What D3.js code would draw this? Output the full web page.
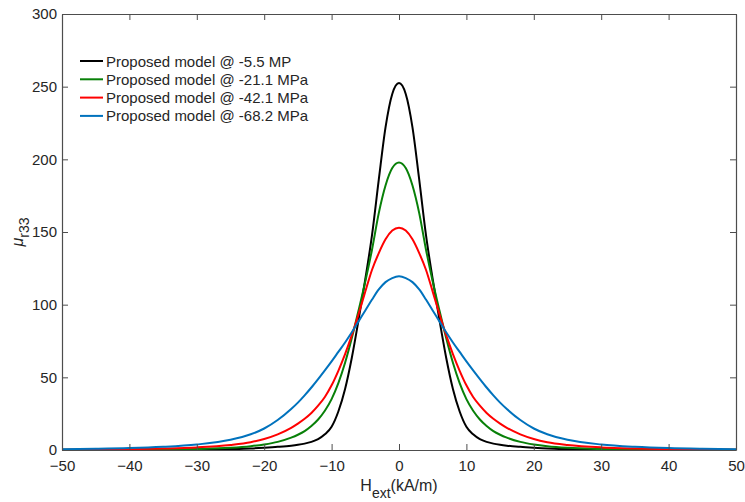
<!DOCTYPE html>
<html>
<head>
<meta charset="utf-8">
<script src="https://cdn.jsdelivr.net/npm/d3@7"></script>
<style>
  body { margin: 0; background: #fff; }
  text { font-family: "Liberation Sans", Arial, sans-serif; fill: #262626; }
</style>
</head>
<body>
<div id="chart"></div>
<script>
// curves are symmetric about H = 0, values read at these |H| (kA/m)
const hAbs = [0, 1, 2, 3, 4, 5, 6, 7, 8, 9, 10, 11, 12, 13, 14, 15, 16, 18, 20, 22, 25, 30, 35, 40, 45, 50];

const mu_5_5  = [252.5, 245, 222, 186, 148, 117.5, 89.5, 63.5, 42, 26.5, 16, 10.8, 7.5, 5.6, 4.4, 3.6, 3.0, 2.2, 1.6, 1.1, 0.7, 0.35, 0.18, 0.1, 0.07, 0.05];
const mu_21_1 = [197.8, 194, 182, 163, 138, 116, 96, 77, 60, 46, 35, 27, 21, 16.5, 13, 10.5, 8.5, 5.6, 3.8, 2.6, 1.5, 0.7, 0.4, 0.25, 0.15, 0.1];
const mu_42_1 = [153, 151, 145, 135.5, 124, 109, 93.5, 79, 66, 54.5, 44.5, 36.5, 30.5, 25.5, 21.5, 18.2, 15.3, 10.8, 7.6, 5.4, 3.5, 1.8, 1.0, 0.55, 0.35, 0.2];
const mu_68_2 = [119.5, 118.3, 115.5, 110.5, 103.5, 96, 88.5, 81, 74, 67.5, 61, 54.8, 48.8, 43, 37.6, 32.6, 28.2, 20.6, 14.8, 10.8, 7.0, 3.8, 2.2, 1.3, 0.85, 0.6];

const seriesNames = ["Proposed model @ -5.5 MP", "Proposed model @ -21.1 MPa", "Proposed model @ -42.1 MPa", "Proposed model @ -68.2 MPa"];
const seriesColors = ["#000000", "#088008", "#ff0000", "#0072bd"];
const seriesValues = [mu_5_5, mu_21_1, mu_42_1, mu_68_2];

const xTicks = [-50, -40, -30, -20, -10, 0, 10, 20, 30, 40, 50];
const yTicks = [0, 50, 100, 150, 200, 250, 300];

const W = 745, H = 502;
const margin = { left: 62, right: 9, top: 14, bottom: 52 };
const iw = W - margin.left - margin.right;
const ih = H - margin.top - margin.bottom;

const svg = d3.select("#chart").append("svg")
  .attr("width", W).attr("height", H);

const g = svg.append("g")
  .attr("transform", "translate(" + margin.left + "," + margin.top + ")");

const x = d3.scaleLinear().domain([-50, 50]).range([0, iw]);
const y = d3.scaleLinear().domain([0, 300]).range([ih, 0]);

svg.append("defs").append("clipPath").attr("id", "clip")
  .append("rect").attr("width", iw).attr("height", ih);

// curves
const line = d3.line()
  .x(d => x(d[0]))
  .y(d => y(d[1]))
  .curve(d3.curveMonotoneX);

seriesValues.forEach((vals, i) => {
  const pts = [];
  for (let k = hAbs.length - 1; k > 0; k--) pts.push([-hAbs[k], vals[k]]);
  for (let k = 0; k < hAbs.length; k++) pts.push([hAbs[k], vals[k]]);
  g.append("path")
    .datum(pts)
    .attr("clip-path", "url(#clip)")
    .attr("fill", "none")
    .attr("stroke", seriesColors[i])
    .attr("stroke-width", 2)
    .attr("d", line);
});

// axes, MATLAB style: ticks inside, box on
const axColor = "#4d4d4d";
const tl = 6;

const xb = g.append("g").attr("transform", "translate(0," + ih + ")")
  .call(d3.axisBottom(x).tickValues(xTicks).tickSizeInner(-tl).tickSizeOuter(0).tickPadding(10));
const xt = g.append("g")
  .call(d3.axisTop(x).tickValues(xTicks).tickSizeInner(-tl).tickSizeOuter(0).tickFormat(""));
const yl = g.append("g")
  .call(d3.axisLeft(y).tickValues(yTicks).tickSizeInner(-tl).tickSizeOuter(0).tickPadding(5));
const yr = g.append("g").attr("transform", "translate(" + iw + ",0)")
  .call(d3.axisRight(y).tickValues(yTicks).tickSizeInner(-tl).tickSizeOuter(0).tickFormat(""));

[xb, xt, yl, yr].forEach(a => {
  a.select(".domain").attr("stroke", axColor).attr("stroke-width", 1.2);
  a.selectAll(".tick line").attr("stroke", axColor);
  a.selectAll(".tick text").attr("font-size", 15).attr("fill", "#262626")
    .attr("font-family", "'Liberation Sans', Arial, sans-serif");
});

// x label
const xl = svg.append("text")
  .attr("x", margin.left + x(0))
  .attr("y", 491)
  .attr("text-anchor", "middle")
  .attr("font-size", 16);
xl.append("tspan").text("H");
xl.append("tspan").attr("dy", 7).attr("font-size", 14).text("ext");
xl.append("tspan").attr("dy", -7).text("(kA/m)");

// y label
const ylab = svg.append("text")
  .attr("transform", "translate(23," + (margin.top + y(150)) + ") rotate(-90)")
  .attr("text-anchor", "middle")
  .attr("font-size", 16);
ylab.append("tspan").attr("font-style", "italic").text("\u03bc");
ylab.append("tspan").attr("dy", 6).attr("font-size", 14).text("r33");

// legend
const lg = svg.append("g").attr("transform", "translate(80,61)");
seriesNames.forEach((name, i) => {
  const row = lg.append("g").attr("transform", "translate(0," + (i * 18.3) + ")");
  row.append("line").attr("x1", 0).attr("x2", 23).attr("y1", 0).attr("y2", 0)
    .attr("stroke", seriesColors[i]).attr("stroke-width", 2);
  row.append("text").attr("x", 26).attr("y", 5.5).attr("font-size", 15).text(name);
});
</script>
</body>
</html>
